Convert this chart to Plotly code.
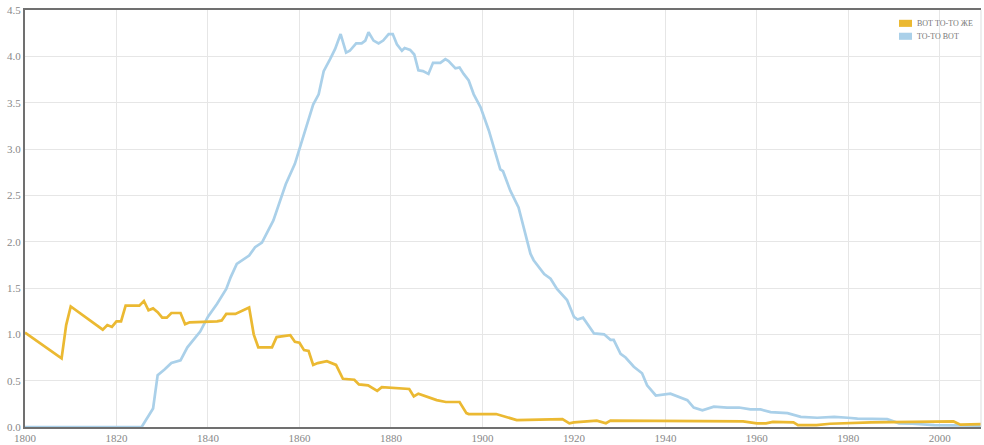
import plotly.graph_objects as go

# "вот то-то же" series (orange)
years_vtz = [1800, 1808, 1809, 1810, 1817, 1818, 1819, 1820, 1821, 1822, 1825, 1826,
             1827, 1828, 1829, 1830, 1831, 1832, 1834, 1835, 1836, 1842, 1843, 1844,
             1846, 1849, 1850, 1851, 1854, 1855, 1858, 1859, 1860, 1861, 1862, 1863,
             1864, 1866, 1868, 1869.5, 1872, 1873, 1875, 1877, 1878, 1882, 1884, 1885,
             1886, 1890, 1892, 1895, 1896.5, 1897, 1903, 1907.5, 1917.5, 1919, 1920,
             1925, 1927, 1928, 1950, 1957, 1960, 1962, 1963.5, 1968, 1969, 1973, 1976,
             1985, 2003, 2004.5, 2009]
vals_vtz = [1.02, 0.74, 1.10, 1.30, 1.05, 1.10, 1.08, 1.14, 1.14, 1.31, 1.31, 1.36,
            1.26, 1.28, 1.24, 1.18, 1.18, 1.23, 1.23, 1.11, 1.13, 1.14, 1.15, 1.22,
            1.22, 1.29, 1.00, 0.86, 0.86, 0.97, 0.99, 0.92, 0.91, 0.83, 0.82, 0.67,
            0.69, 0.71, 0.67, 0.52, 0.51, 0.46, 0.45, 0.39, 0.43, 0.42, 0.41, 0.33,
            0.36, 0.29, 0.27, 0.27, 0.15, 0.14, 0.14, 0.075, 0.085, 0.04, 0.05,
            0.068, 0.04, 0.068, 0.068, 0.06, 0.04, 0.04, 0.055, 0.05, 0.02, 0.02, 0.035,
            0.05, 0.06, 0.025, 0.03]

# "то-то вот" series (light blue)
years_ttv = [1800, 1825.5, 1828, 1829, 1830.5, 1832, 1834, 1835.5, 1837, 1838.3, 1840,
             1842, 1844, 1845, 1846.3, 1849, 1850.3, 1851.8, 1854.3, 1857, 1859, 1860.5,
             1863, 1864.2, 1865.3, 1866.7, 1867.8, 1869, 1870.2, 1871, 1872.4, 1873.6,
             1874.4, 1875.1, 1876.2, 1877.3, 1878.3, 1879.5, 1880.4, 1881.3, 1882.4,
             1883, 1884.2, 1885.1, 1886, 1887, 1888.2, 1889.2, 1890.8, 1891.9, 1892.6,
             1894.1, 1895, 1895.9, 1897, 1898.1, 1899.6, 1901.4, 1902.8, 1903.9, 1904.5,
             1906.1, 1907.9, 1910.5, 1911.2, 1913.5, 1914.9, 1916.3, 1918.5, 1920,
             1920.8, 1922, 1924.4, 1926.6, 1928, 1928.7, 1930.2, 1931.3, 1933.1, 1934.9,
             1936, 1937.9, 1941.1, 1942.6, 1944.8, 1946.2, 1948.1, 1950.6, 1953.5,
             1956.1, 1958.6, 1960.8, 1963, 1966.7, 1969.6, 1973.2, 1976.9, 1979.9, 1982,
             1988.5, 1991.1, 1994, 1998.8, 2009]
vals_ttv = [0, 0, 0.2, 0.56, 0.62, 0.69, 0.72, 0.86, 0.95, 1.03, 1.19, 1.33, 1.49, 1.62,
            1.76, 1.85, 1.94, 1.99, 2.23, 2.62, 2.84, 3.09, 3.48, 3.59, 3.84, 3.97, 4.08,
            4.24, 4.04, 4.06, 4.14, 4.14, 4.17, 4.26, 4.17, 4.14, 4.17, 4.24, 4.24, 4.13,
            4.06, 4.09, 4.07, 4.02, 3.85, 3.84, 3.81, 3.93, 3.93, 3.97, 3.95, 3.87, 3.88,
            3.81, 3.74, 3.59, 3.45, 3.20, 2.98, 2.78, 2.76, 2.55, 2.37, 1.87, 1.80, 1.65,
            1.60, 1.49, 1.37, 1.19, 1.16, 1.18, 1.01, 1.00, 0.94, 0.94, 0.79, 0.75, 0.65,
            0.58, 0.45, 0.34, 0.36, 0.33, 0.29, 0.21, 0.18, 0.22, 0.21, 0.21, 0.19, 0.19,
            0.16, 0.15, 0.11, 0.10, 0.11, 0.10, 0.09, 0.085, 0.04, 0.035, 0.02, 0.015]

names = ['ВОТ ТО-ТО ЖЕ', 'ТО-ТО ВОТ']
colors = ['rgb(235,185,50)', 'rgb(170,208,233)']

FONT = 'Liberation Serif'

fig = go.Figure()

fig.add_trace(go.Scatter(x=years_ttv, y=vals_ttv, mode='lines', name=names[1],
                         line=dict(color=colors[1], width=2.7)))
fig.add_trace(go.Scatter(x=years_vtz, y=vals_vtz, mode='lines', name=names[0],
                         line=dict(color=colors[0], width=2.7)))

# hand-drawn legend: small coloured boxes + labels in the top right corner
shapes = [dict(type='line', xref='paper', yref='paper', x0=1, x1=1, y0=0, y1=1,
               line=dict(color='#dddddd', width=1))]
annotations = []
legend_y = [0.968, 0.937]
for name, col, ly in zip(names, colors, legend_y):
    shapes.append(dict(type='rect', xref='paper', yref='paper',
                       x0=0.9142, x1=0.9278, y0=ly - 0.0085, y1=ly + 0.0085,
                       fillcolor=col, line=dict(width=0)))
    annotations.append(dict(text=name, xref='paper', yref='paper', x=0.9305, y=ly,
                            xanchor='left', yanchor='middle', showarrow=False,
                            font=dict(family=FONT, size=8, color='#777')))

fig.update_layout(
    width=984, height=445,
    margin=dict(l=25, r=3, t=10, b=18),
    plot_bgcolor='white', paper_bgcolor='white',
    font=dict(family=FONT, size=11, color='#888'),
    showlegend=False,
    xaxis=dict(range=[1800, 2009], dtick=20, tick0=1800, showgrid=True,
               gridcolor='#e6e6e6', gridwidth=1, showline=True, linecolor='#707070',
               linewidth=2, mirror=True, ticks='', zeroline=False, automargin=False),
    yaxis=dict(range=[0, 4.5], dtick=0.5, tickformat='.1f', showgrid=True,
               gridcolor='#e6e6e6', gridwidth=1, showline=True, linecolor='#707070',
               linewidth=2, ticks='', zeroline=False, automargin=False),
    shapes=shapes,
    annotations=annotations,
)

# page body has a default 8px margin; drop it so the figure sits at the corner
fig.write_html("out.html", config={'displayModeBar': False},
               post_script="document.body.style.margin='0';")
